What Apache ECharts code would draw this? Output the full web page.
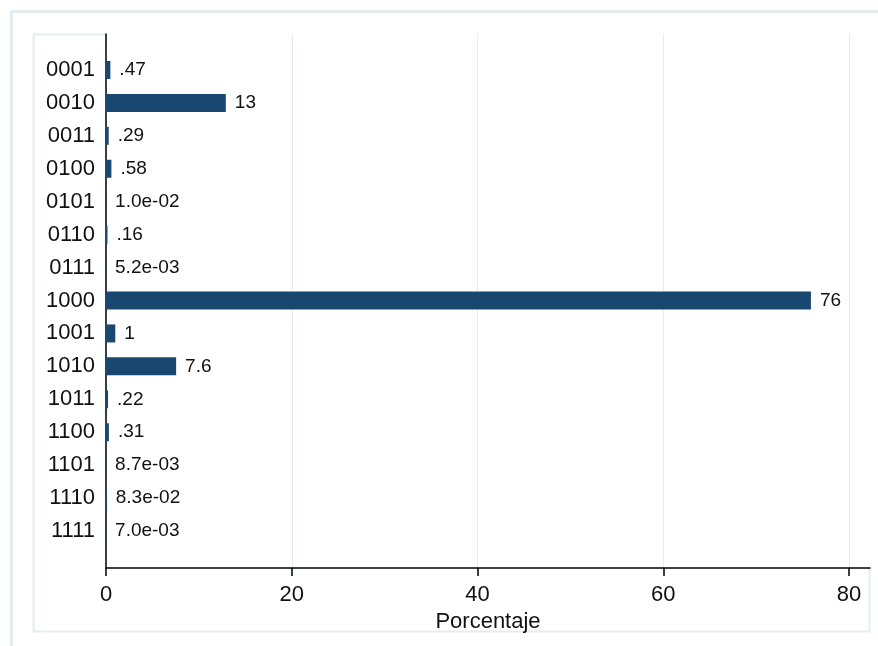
<!DOCTYPE html>
<html><head><meta charset="utf-8">
<script src="https://cdn.jsdelivr.net/npm/echarts@6/dist/echarts.min.js"></script>
<style>html,body{margin:0;padding:0;background:#fff}#c{width:878px;height:646px}</style>
</head><body><div id="c"></div>
<script>
const categories = ['0001','0010','0011','0100','0101','0110','0111','1000','1001','1010','1011','1100','1101','1110','1111'];
const values = [0.47, 12.9, 0.29, 0.58, 0.010, 0.16, 0.0052, 75.9, 1.0, 7.55, 0.22, 0.31, 0.0087, 0.083, 0.0070];
const valueLabels = ['.47','13','.29','.58','1.0e-02','.16','5.2e-03','76','1','7.6','.22','.31','8.7e-03','8.3e-02','7.0e-03'];
const xTicks = [0, 20, 40, 60, 80];
const xTitle = 'Porcentaje';

const chart = echarts.init(document.getElementById('c'));
const XMAX = 82.26;
const frameCol = '#e4eef0';
const font = 'Liberation Sans, Arial, sans-serif';
chart.setOption({
  animation: false,
  backgroundColor: '#fff',
  graphic: [
    {type:'line', shape:{x1:10,y1:11.5,x2:878,y2:11.5}, style:{stroke:frameCol,lineWidth:3}, silent:true, z:-1},
    {type:'line', shape:{x1:11.5,y1:10,x2:11.5,y2:646}, style:{stroke:frameCol,lineWidth:3}, silent:true, z:-1},
    {type:'line', shape:{x1:33.5,y1:34,x2:33.5,y2:632}, style:{stroke:frameCol,lineWidth:2}, silent:true, z:-1},
    {type:'line', shape:{x1:33,y1:631.5,x2:870,y2:631.5}, style:{stroke:frameCol,lineWidth:2}, silent:true, z:-1},
    {type:'line', shape:{x1:33,y1:34.5,x2:106,y2:34.5}, style:{stroke:frameCol,lineWidth:2}, silent:true, z:-1},
    {type:'line', shape:{x1:869.5,y1:568,x2:869.5,y2:632}, style:{stroke:frameCol,lineWidth:2}, silent:true, z:-1}
  ],
  grid: [
    {left:106, right:8, top:34, bottom:78},
    {left:106, right:8, top:53.5, bottom:98.5}
  ],
  xAxis: [
    {
      gridIndex:0, type:'value', min:0, max:XMAX, interval:20,
      axisLine:{show:true, onZero:false, lineStyle:{color:'#000', width:1.5}},
      axisTick:{show:true, length:8, customValues:xTicks, lineStyle:{color:'#000', width:1.5}},
      axisLabel:{show:true, customValues:xTicks, margin:16, color:'#111', fontSize:22, fontFamily:font},
      splitLine:{show:true, lineStyle:{color:frameCol, width:1}},
      name:xTitle, nameLocation:'middle', nameGap:31,
      nameTextStyle:{color:'#111', fontSize:22, fontFamily:font}
    },
    {gridIndex:1, type:'value', min:0, max:XMAX, show:false}
  ],
  yAxis: [
    {
      gridIndex:0, type:'value', min:0, max:1,
      axisLine:{show:true, onZero:false, lineStyle:{color:'#000', width:1.5}},
      axisTick:{show:false}, axisLabel:{show:false}, splitLine:{show:false}
    },
    {
      gridIndex:1, type:'category', data:categories, inverse:true,
      axisLine:{show:false}, axisTick:{show:false}, splitLine:{show:false},
      axisLabel:{margin:11, color:'#111', fontSize:22, fontFamily:font}
    }
  ],
  series: [{
    type:'bar', xAxisIndex:1, yAxisIndex:1, data:values, barWidth:18,
    itemStyle:{color:'#1a476f'},
    label:{show:true, position:'right', distance:9, color:'#111', fontSize:19, fontFamily:font,
      formatter: p => valueLabels[p.dataIndex]}
  }]
});
</script></body></html>
